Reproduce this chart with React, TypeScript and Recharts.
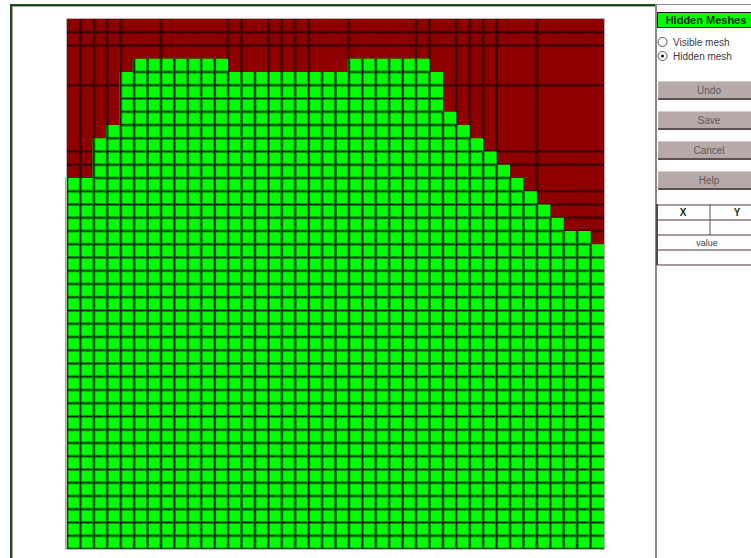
import React from 'react';
import { BarChart, Bar, XAxis, YAxis } from 'recharts';

// Mesh columns (categories)
const columns = [0,1,2,3,4,5,6,7,8,9,10,11,12,13,14,15,16,17,18,19,20,21,22,23,24,25,26,27,28,29,30,31,32,33,34,35,36,37,38,39];
// Number of hidden (green) mesh rows per column, counted from the bottom
const hiddenRows = [28,28,31,32,36,37,37,37,37,37,37,37,36,36,36,36,36,36,36,36,36,37,37,37,37,37,37,36,33,32,31,30,29,28,27,26,25,24,24,23];
const totalRows = 40;
// Coarse mesh lines visible in the visible (red) region
const visibleMeshColumnLines = [1,2,3,4,7,12,13,15,16,17,18,21,26,27,29,30,31,32,35];
const visibleMeshRowLines = [1,2,5,10,11,13,14,15,16];

const panelTitle = 'Hidden Meshes';
const radioLabels = ['Visible mesh', 'Hidden mesh'];
const buttonLabels = ['Undo', 'Save', 'Cancel', 'Help'];
const tableHeaders = ['X', 'Y'];
const tableValueLabel = 'value';

const data = columns.map((c, i) => ({
  col: c,
  hidden: hiddenRows[i],
  visible: totalRows - hiddenRows[i],
  total: totalRows,
}));

const lastCol = columns[columns.length - 1];

const GreenCells = (props: any) => {
  const { x, y, width, height, payload } = props;
  const n = payload.hidden;
  if (!n || height <= 0) return null;
  const ch = height / n;
  const w = payload.col === lastCol ? width + 0.45 : width + 0.45;
  let d = `M${x},${y}V${y + height}`;
  for (let k = 1; k <= n; k++) {
    const yy = y + k * ch;
    d += `M${x},${yy}H${x + w}`;
  }
  return (
    <g>
      <rect x={x} y={y} width={w} height={height} fill="#00ff00" />
      <path d={d} stroke="#00900a" strokeWidth={3} fill="none" />
      <path d={d} stroke="#002400" strokeWidth={1.2} fill="none" />
    </g>
  );
};

const RedCells = (props: any) => {
  const { x, y, width, height, payload } = props;
  if (height <= 0) return null;
  const ch = height / totalRows;
  const n = payload.visible;
  const w = payload.col === lastCol ? width + 0.45 : width + 2;
  let d = '';
  if (visibleMeshColumnLines.includes(payload.col)) {
    d += `M${x},${y}V${y + n * ch}`;
  }
  visibleMeshRowLines.forEach((r) => {
    if (r <= n) {
      const yy = y + r * ch;
      d += `M${x},${yy}H${x + (payload.col === lastCol ? w : width + 0.45)}`;
    }
  });
  return (
    <g>
      <rect x={x} y={y} width={w} height={height} fill="#8e0000" />
      {d && <path d={d} stroke="#5c0000" strokeWidth={3} fill="none" />}
      {d && <path d={d} stroke="#320000" strokeWidth={1.2} fill="none" />}
    </g>
  );
};

const font = '"Liberation Sans", Arial, sans-serif';

export default function App() {
  const btnTop = [81, 111, 141, 171];
  return (
    <div style={{ position: 'absolute', left: 0, top: 0, width: 751, height: 558, background: '#ffffff', overflow: 'hidden' }}>
      <div style={{ position: 'absolute', left: 0, top: 0 }}>
        <BarChart
          width={751}
          height={558}
          data={data}
          margin={{ top: 19, right: 147, bottom: 9, left: 67 }}
          barCategoryGap={0}
          barGap={0}
        >
          <XAxis xAxisId="bg" dataKey="col" hide />
          <XAxis xAxisId="fg" dataKey="col" hide />
          <YAxis type="number" domain={[0, totalRows]} hide allowDataOverflow />
          <Bar xAxisId="bg" dataKey="total" isAnimationActive={false} shape={(p: any) => <RedCells {...p} />} />
          <Bar xAxisId="fg" dataKey="hidden" isAnimationActive={false} shape={(p: any) => <GreenCells {...p} />} />
        </BarChart>
      </div>
      <svg width={751} height={558} style={{ position: 'absolute', left: 0, top: 0, pointerEvents: 'none' }}>
        {/* plot border */}
        <rect x={66.5} y={18.5} width={538} height={531} fill="none" stroke="#bdb5b5" strokeWidth={1} />
        {/* outer frame */}
        <rect x={10} y={4} width={645} height={2} fill="#1d4a1d" />
        <rect x={10} y={4} width={2} height={554} fill="#1d4a1d" />
        <rect x={12} y={6} width={643} height={1} fill="#b0a0a0" />
        <rect x={12} y={6} width={1} height={552} fill="#b0a0a0" />
        {/* panel separator */}
        <rect x={655} y={4} width={2} height={554} fill="#8a8a8a" />
        <rect x={657} y={4} width={94} height={1} fill="#8a8a8a" />
        {/* title */}
        <rect x={657.5} y={12.5} width={94} height={15} fill="#00ff00" stroke="#1a1a1a" strokeWidth={1} />
        <text x={706} y={24} textAnchor="middle" fontFamily={font} fontWeight="bold" fontSize={11} fill="#002a00">{panelTitle}</text>
        {/* radios */}
        {radioLabels.map((lab, i) => (
          <g key={lab}>
            <circle cx={662.5} cy={42 + i * 14} r={4.5} fill="#ffffff" stroke="#555" strokeWidth={1} />
            {i === 1 && <circle cx={662.5} cy={42 + i * 14} r={1.5} fill="#111" />}
            <text x={673} y={46 + i * 14} fontFamily={font} fontSize={10} fill="#3a3a3a">{lab}</text>
          </g>
        ))}
        {/* buttons */}
        {buttonLabels.map((lab, i) => (
          <g key={lab}>
            <rect x={658} y={btnTop[i]} width={93} height={18} fill="#b8a9a9" />
            <rect x={658} y={btnTop[i]} width={93} height={1} fill="#d6caca" />
            <rect x={658} y={btnTop[i] + 17} width={93} height={2} fill="#5e5050" />
            <text x={709} y={btnTop[i] + 13} textAnchor="middle" fontFamily={font} fontSize={10} fill="#5a5a5a">{lab}</text>
          </g>
        ))}
        {/* table */}
        {[205, 220, 235, 250, 265].map((yy) => (
          <rect key={yy} x={657} y={yy - 1} width={94} height={2} fill="#a89a9a" />
        ))}
        <rect x={656} y={204} width={2} height={61} fill="#4a4a4a" />
        <rect x={709.5} y={205} width={1} height={30} fill="#555" />
        <text x={683} y={216} textAnchor="middle" fontFamily={font} fontWeight="bold" fontSize={10} fill="#1a2a1a">{tableHeaders[0]}</text>
        <text x={737} y={216} textAnchor="middle" fontFamily={font} fontWeight="bold" fontSize={10} fill="#1a3a1a">{tableHeaders[1]}</text>
        <text x={707} y={246} textAnchor="middle" fontFamily={font} fontSize={9} fill="#3a3a3a">{tableValueLabel}</text>
      </svg>
    </div>
  );
}
